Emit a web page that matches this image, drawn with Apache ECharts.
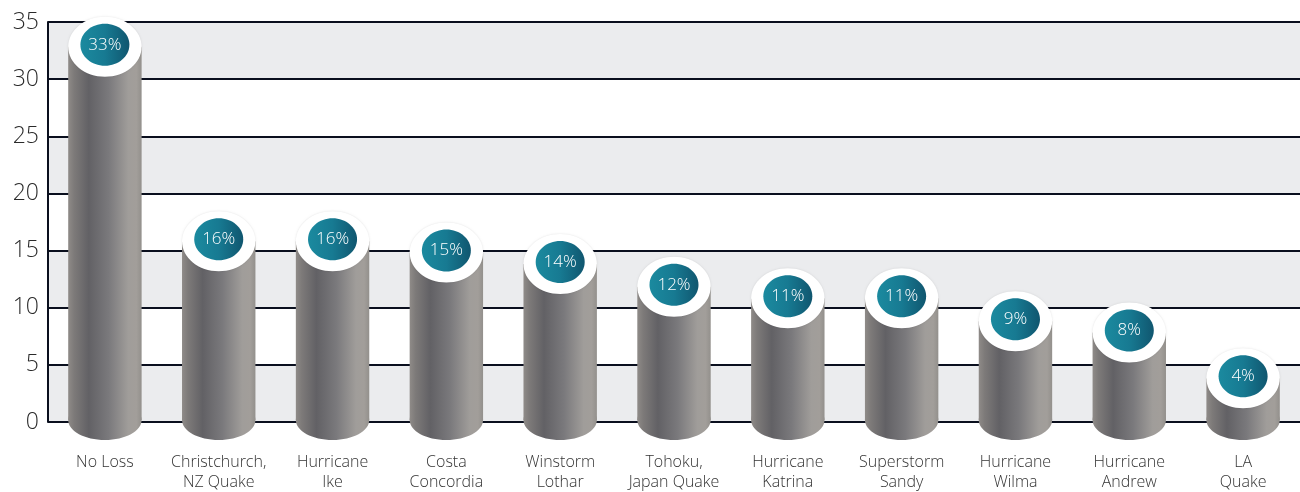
<!DOCTYPE html>
<html>
<head>
<meta charset="utf-8">
<script src="https://cdn.jsdelivr.net/npm/echarts@6/dist/echarts.min.js"></script>
<style>
html,body{margin:0;padding:0;background:#fff;overflow:hidden;}
#chart{width:1300px;height:492px;}
</style>
</head>
<body>
<div id="chart"></div>
<script>
const categories = ["No Loss", "Christchurch,\nNZ Quake", "Hurricane\nIke", "Costa\nConcordia", "Winstorm\nLothar", "Tohoku,\nJapan Quake", "Hurricane\nKatrina", "Superstorm\nSandy", "Hurricane\nWilma", "Hurricane\nAndrew", "LA\nQuake"];
const values = [33, 16, 16, 15, 14, 12, 11, 11, 9, 8, 4];
const yTicks = [0, 5, 10, 15, 20, 25, 30, 35];

const chart = echarts.init(document.getElementById('chart'), null, {renderer: 'canvas'});

function bodyGradient() {
  return new echarts.graphic.LinearGradient(0, 0, 1, 0, [
    {offset: 0, color: '#8f8b88'},
    {offset: 0.08, color: '#7d7a79'},
    {offset: 0.28, color: '#626165'},
    {offset: 0.55, color: '#7a797c'},
    {offset: 0.82, color: '#a09d9a'},
    {offset: 0.93, color: '#a29e9a'},
    {offset: 1, color: '#93908c'}
  ]);
}
function tealGradient() {
  return new echarts.graphic.LinearGradient(0, 0, 1, 0, [
    {offset: 0, color: '#1b8a9f'},
    {offset: 0.5, color: '#177a92'},
    {offset: 1, color: '#10566f'}
  ]);
}

const option = {
  animation: false,
  grid: {left: 48, width: 1265, top: 22, height: 404, containLabel: false},
  xAxis: {
    type: 'category',
    data: categories,
    axisLine: {show: false},
    axisTick: {show: false},
    axisLabel: {
      interval: 0, margin: 30, fontSize: 16, lineHeight: 20,
      color: '#333333', fontWeight: 300, fontFamily: '"Open Sans", "Noto Sans", sans-serif'
    },
    splitLine: {show: false},
    z: 5
  },
  yAxis: {
    type: 'value',
    min: yTicks[0], max: yTicks[yTicks.length - 1], interval: 5,
    axisLine: {show: true, lineStyle: {color: '#0a0f1e', width: 2}},
    axisTick: {show: false},
    axisLabel: {
      margin: 9, fontSize: 23, color: '#2a2a2a', fontWeight: 300,
      fontFamily: '"Open Sans", "Noto Sans", sans-serif'
    },
    splitLine: {show: true, lineStyle: {color: '#0a0f1e', width: 2}},
    splitArea: {show: true, areaStyle: {color: ['#ebecee', '#ffffff']}}
  },
  series: [{
    type: 'custom',
    data: values.map((v, i) => [i, v]),
    clip: false,
    z: 10,
    renderItem: function (params, api) {
      const idx = api.value(0);
      const val = api.value(1);
      const top = api.coord([idx, val]);
      const base = api.coord([idx, 0]);
      const band = api.size([1, 0])[0];
      const bw = band * 0.645;
      const rx = bw / 2;
      const cx = top[0];
      const topY = top[1];
      const baseY = base[1];
      return {
        type: 'group',
        children: [
          {type: 'rect', shape: {x: cx - rx, y: topY + 2, width: bw, height: baseY - topY - 4},
           style: {fill: bodyGradient()}},
          {type: 'ellipse', shape: {cx: cx, cy: baseY - 2, rx: rx, ry: 20},
           style: {fill: bodyGradient()}},
          {type: 'ellipse', shape: {cx: cx, cy: topY + 2, rx: rx, ry: 30},
           style: {fill: '#ffffff', shadowBlur: 2, shadowColor: 'rgba(0,0,0,0.12)'}},
          {type: 'ellipse', shape: {cx: cx, cy: topY, rx: 24.5, ry: 21},
           style: {fill: tealGradient()}},
          {type: 'text', style: {
            text: val + '%', x: cx, y: topY, align: 'center', verticalAlign: 'middle',
            fill: '#ffffff', fontSize: 17, fontWeight: 300,
            fontFamily: '"Open Sans", "Noto Sans", sans-serif'
          }}
        ]
      };
    }
  }]
};
chart.setOption(option);
</script>
</body>
</html>
